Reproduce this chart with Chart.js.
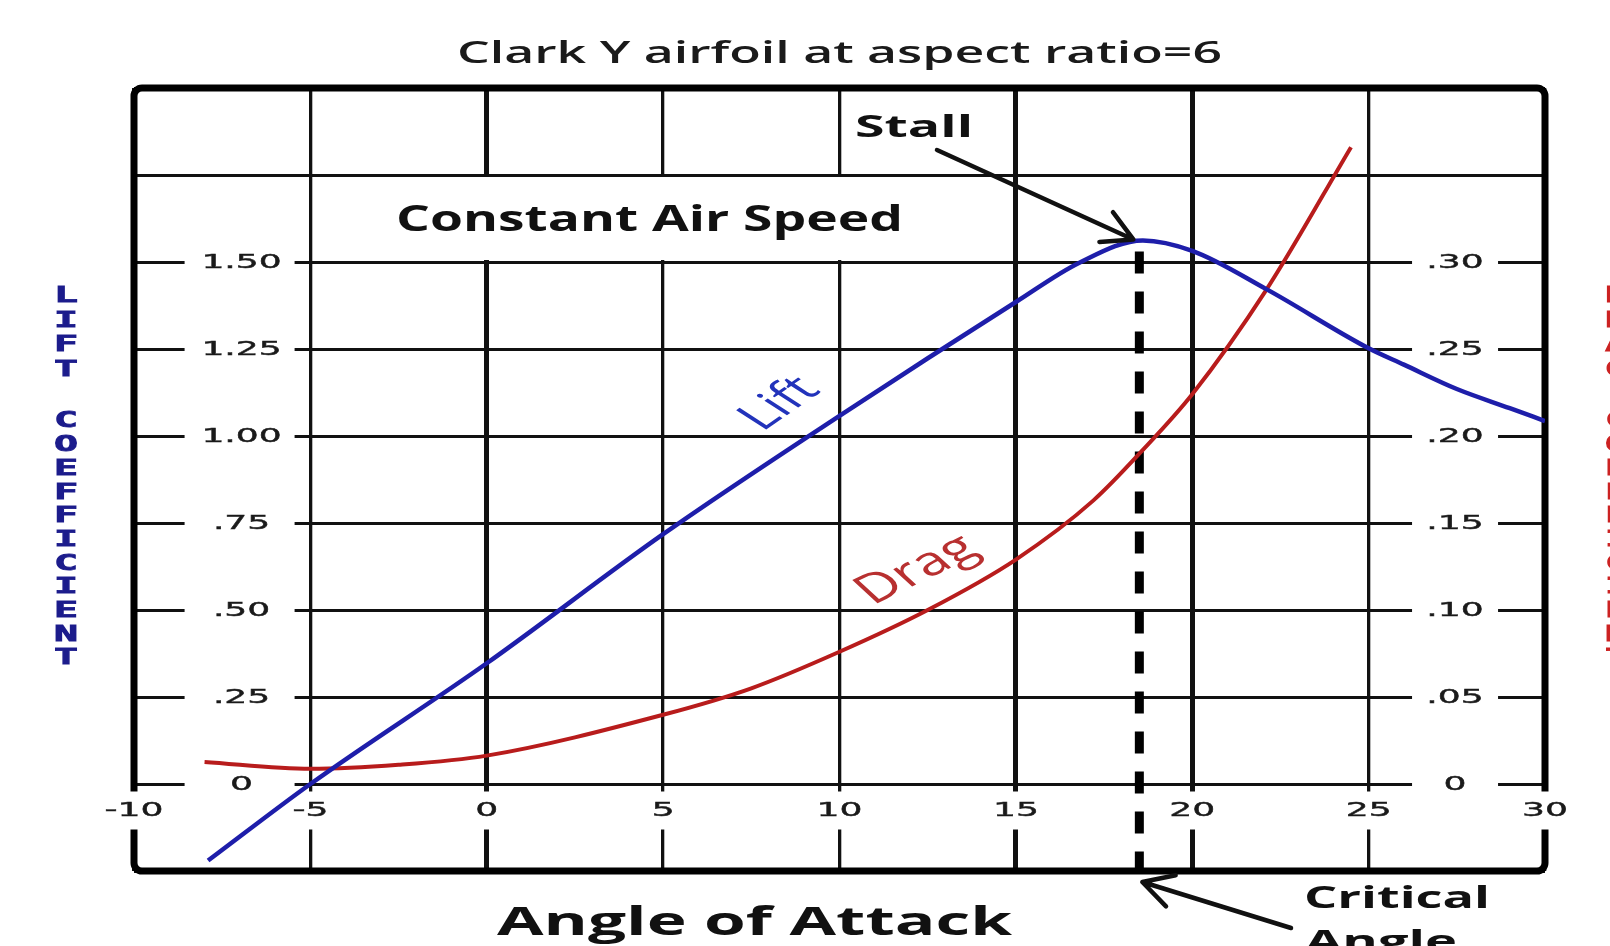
<!DOCTYPE html>
<html>
<head>
<meta charset="utf-8">
<title>Clark Y airfoil at aspect ratio=6</title>
<script src="https://cdn.jsdelivr.net/npm/chart.js@4.4.1/dist/chart.umd.min.js"></script>
<style>
  html, body { margin: 0; padding: 0; background: #fff; }
  #wrap { width: 1610px; height: 946px; position: relative; }
</style>
</head>
<body>
<div id="wrap"><canvas id="chart"></canvas></div>
<script>
// ── values (angle of attack in degrees) ──
const liftAngles = [-7.9, -5, 0, 5, 10, 15, 16.8, 18.6, 20, 22.1, 25, 26, 27.5, 29, 30];
const liftValues = [-0.22, 0, 0.347, 0.718, 1.058, 1.385, 1.498, 1.562, 1.532, 1.422, 1.252, 1.205, 1.135, 1.08, 1.043];

const dragAngles = [-8, -5, -2.5, 0, 5, 7.5, 10, 12.5, 15, 17.2, 18.6, 20, 22.1, 24.5];
const dragValues = [0.0127, 0.0087, 0.011, 0.0163, 0.0398, 0.055, 0.076, 0.1, 0.129, 0.163, 0.192, 0.224, 0.284, 0.366];

const xTicks = [-10, -5, 0, 5, 10, 15, 20, 25, 30];
const xTickLabels = ['-10', '-5', '0', '5', '10', '15', '20', '25', '30'];
const liftTicks = [0, 0.25, 0.5, 0.75, 1, 1.25, 1.5];
const liftTickLabels = ['0', '.25', '.50', '.75', '1.00', '1.25', '1.50'];
const dragTicks = [0, 0.05, 0.1, 0.15, 0.2, 0.25, 0.3];
const dragTickLabels = ['0', '.05', '.10', '.15', '.20', '.25', '.30'];

const stallAngle = 18.5;

// ── text helpers: the source scan is stretched sideways, so is our text ──
function txt(ctx, str, x, y, font, color, sx, align, base, stroke) {
  ctx.save();
  ctx.font = font;
  ctx.fillStyle = color;
  ctx.textAlign = align || 'center';
  ctx.textBaseline = base || 'alphabetic';
  ctx.translate(x, y);
  ctx.scale(sx, 1);
  ctx.fillText(str, 0, 0);
  if (stroke) {
    ctx.strokeStyle = color;
    ctx.lineWidth = stroke;
    ctx.strokeText(str, 0, 0);
  }
  ctx.restore();
}

function fitText(ctx, str, left, y, width, font, color) {
  ctx.save();
  ctx.font = font;
  const sx = width / ctx.measureText(str).width;
  ctx.restore();
  txt(ctx, str, left, y, font, color, sx, 'left');
}

function slanted(ctx, str, cx, cy, font, color, sx, deg) {
  ctx.save();
  ctx.font = font;
  ctx.fillStyle = color;
  ctx.textAlign = 'center';
  ctx.textBaseline = 'middle';
  ctx.translate(cx, cy);
  ctx.scale(sx, 1);
  ctx.rotate(-deg * Math.PI / 180);
  ctx.fillText(str, 0, 0);
  ctx.restore();
}

function arrow(ctx, x1, y1, x2, y2) {
  const a = Math.atan2(y2 - y1, x2 - x1), len = 34, spread = 0.5;
  ctx.save();
  ctx.strokeStyle = '#111';
  ctx.lineWidth = 4.5;
  ctx.lineCap = 'round';
  ctx.lineJoin = 'round';
  ctx.beginPath();
  ctx.moveTo(x1, y1); ctx.lineTo(x2, y2);
  ctx.moveTo(x2 - len * Math.cos(a - spread), y2 - len * Math.sin(a - spread));
  ctx.lineTo(x2, y2);
  ctx.lineTo(x2 - len * Math.cos(a + spread), y2 - len * Math.sin(a + spread));
  ctx.stroke();
  ctx.restore();
}

function stackedWord(ctx, word, x, y0, step, color) {
  for (let i = 0; i < word.length; i++) {
    txt(ctx, word[i], x, y0 + i * step, 'bold 21px "DejaVu Sans Mono"', color, 1.9, 'center', 'middle', 0.8);
  }
}

// ── underlay: frame, broken grid, tick labels, stall line ──
const underlay = {
  id: 'underlay',
  beforeDatasetsDraw(chart) {
    const { ctx, chartArea: { left, right, top, bottom }, scales: { x, y, y1 } } = chart;
    ctx.save();

    // blank band behind "Constant Air Speed"
    ctx.fillStyle = '#fff';
    ctx.fillRect(x.getPixelForValue(-5) + 3, y.getPixelForValue(1.75) + 2,
      x.getPixelForValue(15) - x.getPixelForValue(-5) - 6, y.getPixelForValue(1.5) - y.getPixelForValue(1.75) - 4);

    // heavy frame
    ctx.strokeStyle = '#000';
    ctx.lineWidth = 7;
    ctx.beginPath();
    ctx.roundRect(left, top, right - left, bottom - top, 8);
    ctx.stroke();

    const tickFont = '19px "DejaVu Sans"';
    // left (lift) labels
    const lx = x.getPixelForValue(-6.95);
    liftTicks.forEach((v, i) => {
      const py = y.getPixelForValue(v);
      ctx.fillStyle = '#fff';
      ctx.fillRect(lx - 57, py - 6, 110, 12);
      txt(ctx, liftTickLabels[i], lx, py + 1, tickFont, '#1a1a1a', 1.9, 'center', 'middle', 0.4);
    });
    // right (drag) labels
    const rx = x.getPixelForValue(27.45);
    dragTicks.forEach((v, i) => {
      const py = y1.getPixelForValue(v);
      ctx.fillStyle = '#fff';
      ctx.fillRect(rx - 43, py - 6, 86, 12);
      txt(ctx, dragTickLabels[i], rx, py + 1, tickFont, '#1a1a1a', 1.9, 'center', 'middle', 0.4);
    });
    // angle labels, sitting just under the zero line
    const ly = y.getPixelForValue(-0.079);
    ctx.font = tickFont;
    xTicks.forEach((v, i) => {
      const px = x.getPixelForValue(v);
      const w = ctx.measureText(xTickLabels[i]).width * 1.9 + 12;
      ctx.fillStyle = '#fff';
      ctx.fillRect(px - w / 2, ly - 20, w, 38);
      txt(ctx, xTickLabels[i], px, ly, tickFont, '#1a1a1a', 1.9, 'center', 'middle', 0.4);
    });

    // dashed critical-angle line from the lift peak down through the frame
    const sx = x.getPixelForValue(stallAngle);
    const peak = Math.max(...liftValues);
    ctx.strokeStyle = '#000';
    ctx.lineWidth = 9;
    ctx.setLineDash([22, 18]);
    ctx.beginPath();
    ctx.moveTo(sx, y.getPixelForValue(peak) + 11);
    ctx.lineTo(sx, bottom + 2);
    ctx.stroke();
    ctx.restore();
  }
};

// ── annotations on top ──
const annotations = {
  id: 'annotations',
  afterDatasetsDraw(chart) {
    const { ctx, chartArea: { bottom }, scales: { x, y } } = chart;
    const sx = x.getPixelForValue(stallAngle);
    const peakY = y.getPixelForValue(Math.max(...liftValues));

    fitText(ctx, 'Clark Y airfoil at aspect ratio=6', 457, 63, 765, '600 30px "Open Sans"', '#1a1a1a');
    fitText(ctx, 'Constant Air Speed', 396, 231, 507, 'bold 36px "Open Sans"', '#111');
    fitText(ctx, 'Stall', 855, 137, 118, 'bold 31px "Open Sans"', '#111');
    fitText(ctx, 'Critical', 1304, 908, 186, 'bold 30px "Open Sans"', '#111');
    fitText(ctx, 'Angle', 1305, 952, 152, 'bold 30px "Open Sans"', '#111');
    fitText(ctx, 'Angle of Attack', 497, 935, 515, 'bold 40px "Open Sans"', '#111');

    slanted(ctx, 'Lift', 780, 404, '39px "Open Sans"', '#2233bb', 1.5, 46);
    slanted(ctx, 'Drag', 917, 570, '40px "Open Sans"', '#b83030', 1.5, 36);

    arrow(ctx, 937, 150, sx - 6, peakY - 1);
    arrow(ctx, 1291, 928, sx + 3, bottom + 11);

    stackedWord(ctx, 'LIFT', 66, 297, 24.5, '#1c1c8c');
    stackedWord(ctx, 'COEFFICIENT', 66, 422, 23.7, '#1c1c8c');
    stackedWord(ctx, 'DRAG', 1617, 297, 24.5, '#cc2222');
    stackedWord(ctx, 'COEFFICIENT', 1617, 422, 23.7, '#cc2222');
  }
};

const thick = [0, 15, 20];

new Chart(document.getElementById('chart'), {
  type: 'scatter',
  data: {
    datasets: [
      {
        label: 'Lift',
        data: liftAngles.map((a, i) => ({ x: a, y: liftValues[i] })),
        yAxisID: 'y',
        showLine: true,
        borderColor: '#1e1eaa',
        borderWidth: 4.5,
        pointRadius: 0,
        cubicInterpolationMode: 'monotone'
      },
      {
        label: 'Drag',
        data: dragAngles.map((a, i) => ({ x: a, y: dragValues[i] })),
        yAxisID: 'y1',
        showLine: true,
        borderColor: '#b81c1c',
        borderWidth: 4,
        pointRadius: 0,
        cubicInterpolationMode: 'monotone'
      }
    ]
  },
  options: {
    responsive: true,
    maintainAspectRatio: false,
    animation: false,
    devicePixelRatio: 1,
    layout: { padding: { left: 134, right: 65, top: 88, bottom: 75 } },
    plugins: { legend: { display: false }, tooltip: { enabled: false } },
    scales: {
      x: {
        type: 'linear', min: -10, max: 30,
        ticks: { display: false, stepSize: 5 },
        border: { display: false },
        grid: {
          color: '#111', drawTicks: false,
          lineWidth: c => thick.includes(c.tick && c.tick.value) ? 5 : 3.3
        }
      },
      y: {
        type: 'linear', position: 'left', min: -0.25, max: 2.0,
        ticks: { display: false, stepSize: 0.25 },
        border: { display: false },
        grid: { color: '#111', lineWidth: 3, drawTicks: false }
      },
      y1: {
        type: 'linear', position: 'right', min: -0.05, max: 0.40,
        ticks: { display: false, stepSize: 0.05 },
        border: { display: false },
        grid: { display: false, drawTicks: false }
      }
    }
  },
  plugins: [underlay, annotations]
});
</script>
</body>
</html>
